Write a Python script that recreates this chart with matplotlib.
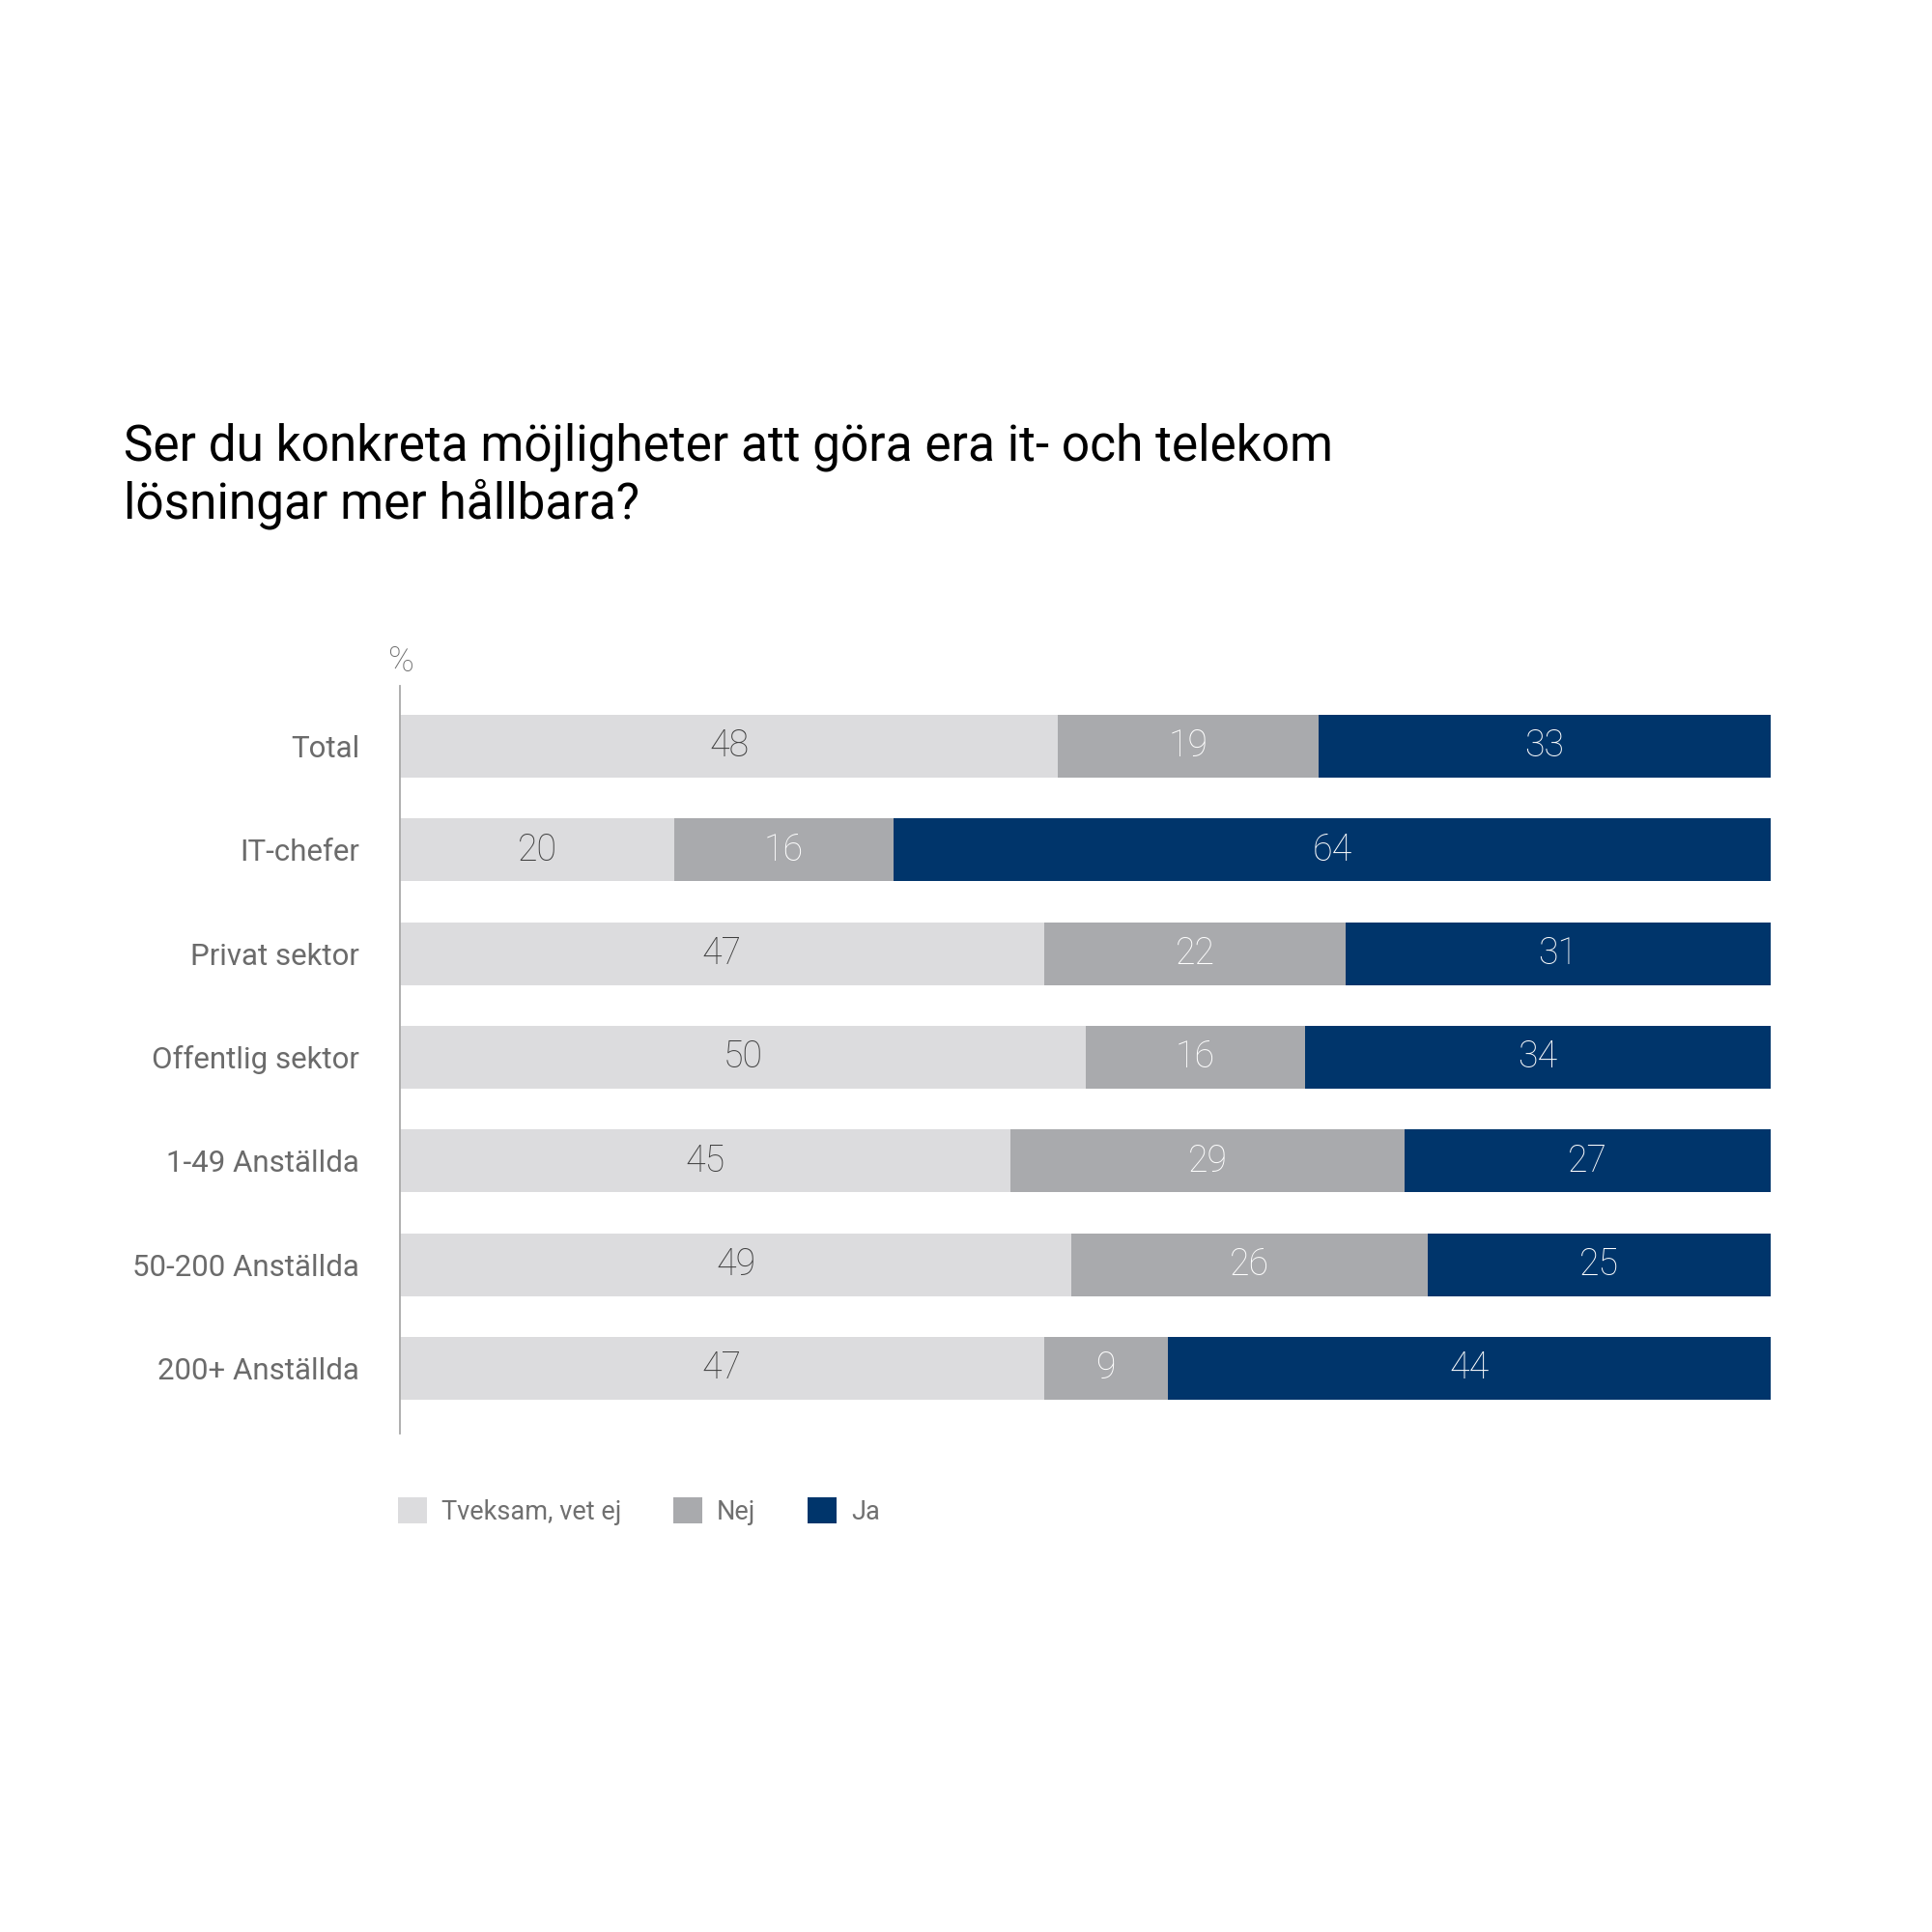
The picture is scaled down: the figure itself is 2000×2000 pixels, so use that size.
import matplotlib
matplotlib.use("Agg")
import matplotlib.pyplot as plt
import numpy as np

plt.rcParams['font.family'] = ['Roboto', 'DejaVu Sans']

# --- data ---
categories = ["Total", "IT-chefer", "Privat sektor", "Offentlig sektor",
              "1-49 Anställda", "50-200 Anställda", "200+ Anställda"]
tveksam = [48, 20, 47, 50, 45, 49, 47]
nej = [19, 16, 22, 16, 29, 26, 9]
ja = [33, 64, 31, 34, 27, 25, 44]
series_names = ["Tveksam, vet ej", "Nej", "Ja"]

title = "Ser du konkreta möjligheter att göra era it- och telekom\nlösningar mer hållbara?"

COL_LIGHT = "#DCDCDE"
COL_MID = "#A9AAAD"
COL_NAVY = "#00356B"
TXT_GRAY = "#6b6b6b"

fig = plt.figure(figsize=(20, 20), dpi=100)
ax = fig.add_axes([0.207, 0.258, 0.7095, 0.387])

vals = np.array([tveksam, nej, ja], dtype=float)
# rows that don't sum to 100 are scaled to fill the bar
widths = vals / vals.sum(axis=0) * 100
y = np.arange(len(categories))
colors = [COL_LIGHT, COL_MID, COL_NAVY]
txt_colors = ["#3f3f3f", "white", "white"]

left = np.zeros(len(categories))
handles = []
for k in range(3):
    h = ax.barh(y, widths[k], left=left, height=0.606, color=colors[k],
                label=series_names[k], linewidth=0)
    handles.append(h)
    for i in range(len(categories)):
        ax.text(left[i] + widths[k][i] / 2, y[i], f"{int(vals[k][i])}",
                ha="center", va="center", fontsize=27, color=txt_colors[k],
                fontweight="light")
    left += widths[k]

ax.set_xlim(0, 100)
ax.set_ylim(6.629, -0.582)
ax.set_yticks(y)
ax.set_yticklabels(categories, fontsize=22.5, color=TXT_GRAY)
ax.tick_params(axis="y", length=0, pad=30)
ax.set_xticks([])
for s in ["top", "right", "bottom"]:
    ax.spines[s].set_visible(False)
ax.spines["left"].set_color("#A8A8A8")
ax.spines["left"].set_linewidth(1.3)

ax.annotate("%", xy=(0, 1.0), xycoords="axes fraction", xytext=(1, 5),
            textcoords="offset points", ha="center", va="bottom",
            fontsize=26, color=TXT_GRAY, fontweight="light")

fig.text(0.064, 1 - 537 / 2000, title, ha="left", va="baseline", fontsize=37,
         color="black", linespacing=1.18)

fig.legend(handles=handles, labels=series_names, loc="upper left",
           bbox_to_anchor=(0.206, 1 - 1550 / 2000), ncol=3, frameon=False,
           prop={"size": 19.5}, handlelength=1.1,
           handleheight=1.15, handletextpad=0.55, columnspacing=2.0,
           borderpad=0, borderaxespad=0, labelcolor="#707070")

fig.savefig("out.png", dpi=100, facecolor="white")
